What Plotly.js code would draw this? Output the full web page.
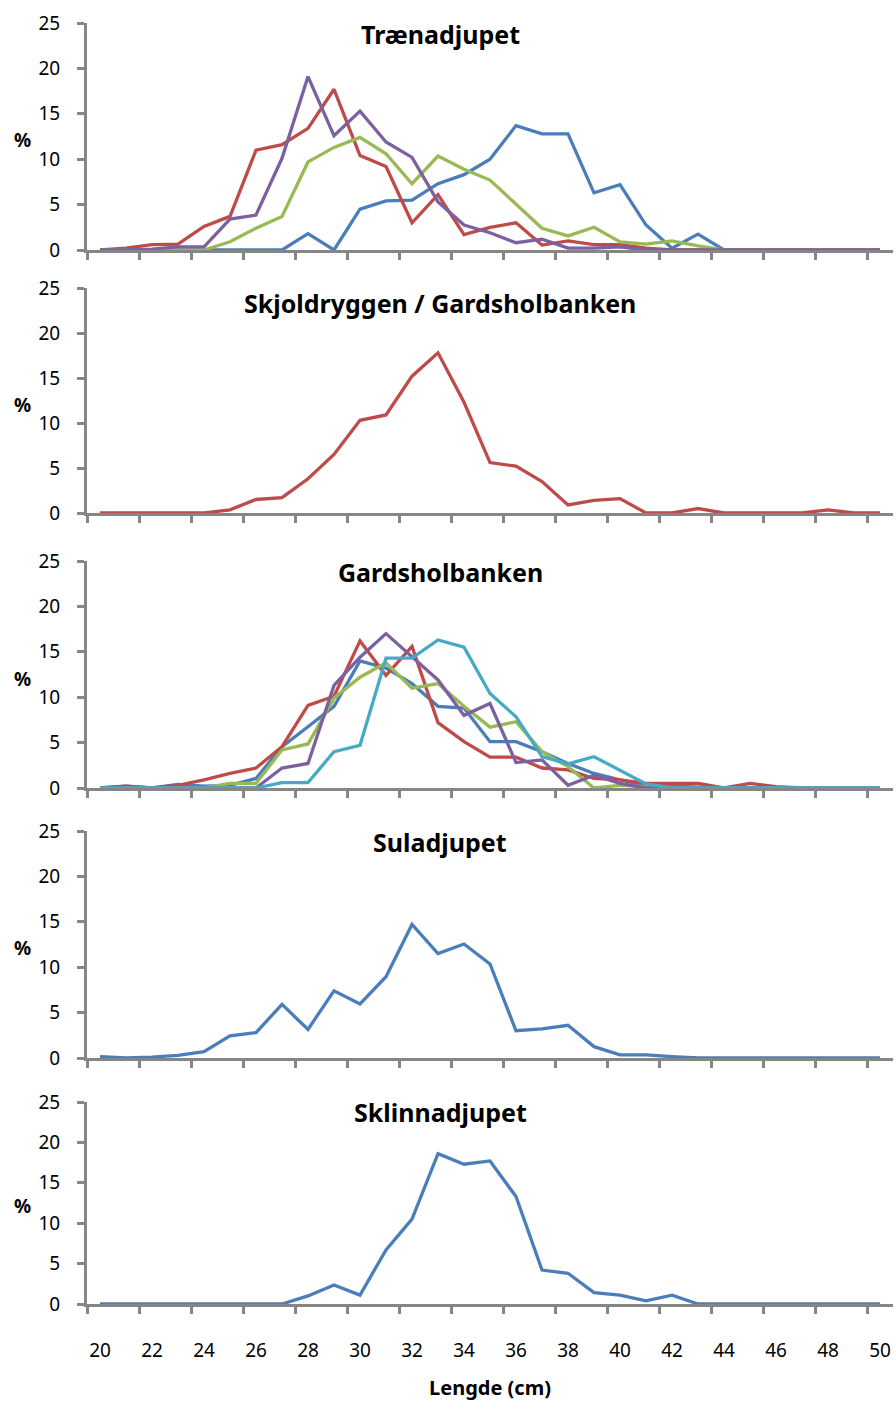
<!DOCTYPE html>
<html>
<head>
<meta charset="utf-8">
<script src="https://cdn.plot.ly/plotly-3.0.1.min.js"></script>
<style>html,body{margin:0;padding:0;background:#fff;}#chart{width:896px;height:1407px;}</style>
</head>
<body>
<div id="chart"></div>
<script>
// Lengths (cm)
const lengths = [20,21,22,23,24,25,26,27,28,29,30,31,32,33,34,35,36,37,38,39,40,41,42,43,44,45,46,47,48,49,50];
const xTickLabels = ["20","22","24","26","28","30","32","34","36","38","40","42","44","46","48","50"];
const panelTitles = ["Trænadjupet","Skjoldryggen / Gardsholbanken","Gardsholbanken","Suladjupet","Sklinnadjupet"];
const yTickValues = [0,5,10,15,20,25];

// Panel 1: Trænadjupet
const traena_blue   = [0,0,0,0,0,0,0,0,1.8,0,4.5,5.4,5.5,7.3,8.3,10.0,13.7,12.8,12.8,6.3,7.2,2.75,0.2,1.75,0,0,0,0,0,0,0];
const traena_red    = [0,0.2,0.6,0.65,2.6,3.7,11.0,11.6,13.4,17.7,10.4,9.2,3.0,6.1,1.7,2.5,3.0,0.55,1.0,0.6,0.6,0.2,0,0,0,0,0,0,0,0,0];
const traena_green  = [0,0,0,0,0,0.9,2.4,3.7,9.7,11.3,12.4,10.6,7.3,10.35,8.9,7.7,5.1,2.4,1.55,2.5,0.9,0.65,1.0,0.45,0,0,0,0,0,0,0];
const traena_purple = [0,0,0.1,0.35,0.35,3.4,3.85,10.1,19.1,12.6,15.3,11.9,10.2,5.3,2.75,1.9,0.8,1.2,0.2,0.2,0.35,0,0,0,0,0,0,0,0,0,0];

// Panel 2: Skjoldryggen / Gardsholbanken
const skjold_red = [0,0,0,0,0,0.35,1.5,1.7,3.8,6.5,10.3,10.9,15.2,17.8,12.3,5.6,5.2,3.5,0.9,1.4,1.6,0,0,0.5,0,0,0,0,0.35,0,0];

// Panel 3: Gardsholbanken
const gards_blue   = [0,0.2,0,0.4,0.2,0.3,1.05,4.55,6.75,9.0,14.0,13.2,11.5,9.0,8.8,5.1,5.1,4.0,2.7,1.6,0.9,0.3,0.2,0.1,0,0,0,0,0,0,0];
const gards_red    = [0,0.2,0,0.3,0.9,1.6,2.2,4.55,9.1,10.1,16.2,12.4,15.6,7.2,5.1,3.4,3.4,2.2,2.0,1.05,0.9,0.5,0.5,0.5,0,0.5,0.15,0,0,0,0];
const gards_green  = [0,0,0,0,0,0.5,0.5,4.2,4.85,9.9,12.2,13.8,11.0,11.5,9.0,6.7,7.3,4.0,2.35,0,0.3,0.15,0,0,0,0,0,0,0,0,0];
const gards_purple = [0,0,0,0,0,0,0,2.2,2.7,11.3,14.4,17.0,14.4,11.9,8.0,9.3,2.8,3.1,0.3,1.4,0.5,0,0,0,0,0,0,0,0,0,0];
const gards_teal   = [0,0,0,0,0,0,0,0.6,0.6,4.0,4.7,14.3,14.3,16.3,15.5,10.4,7.85,3.45,2.65,3.45,2.0,0.45,0,0,0,0,0,0,0,0,0];

// Panel 4: Suladjupet
const sula_blue = [0.15,0,0.1,0.3,0.7,2.45,2.8,5.9,3.15,7.4,5.95,8.95,14.7,11.5,12.55,10.35,3.0,3.2,3.6,1.25,0.35,0.35,0.15,0,0,0,0,0,0,0,0];

// Panel 5: Sklinnadjupet
const sklinna_blue = [0,0,0,0,0,0,0,0,1.0,2.35,1.1,6.7,10.5,18.6,17.3,17.7,13.3,4.2,3.8,1.4,1.1,0.4,1.1,0,0,0,0,0,0,0,0];

const C = {blue:'#4A7EBB', red:'#BE4B48', green:'#98B954', purple:'#7D60A0', teal:'#46AAC5'};

const panels = [
  [[traena_blue,C.blue],[traena_red,C.red],[traena_green,C.green],[traena_purple,C.purple]],
  [[skjold_red,C.red]],
  [[gards_blue,C.blue],[gards_red,C.red],[gards_green,C.green],[gards_purple,C.purple],[gards_teal,C.teal]],
  [[sula_blue,C.blue]],
  [[sklinna_blue,C.blue]]
];

const H = 1407;
// pixel positions [top(25), bottom(0)] of each panel
const panelPix = [[23,250],[288,513],[561,788],[831,1058],[1102,1304]];
const titlePix = [34,303,572,842,1112];
const pctPix = [140,405,679,948,1206];

const data = [];
const layout = {
  width: 896, height: 1407,
  margin: {l:0, r:0, t:0, b:0},
  paper_bgcolor: '#fff', plot_bgcolor: '#fff',
  showlegend: false,
  font: {family: 'Noto Sans, sans-serif', size: 19, color: '#000'},
  annotations: []
};

const xTickPos = xTickLabels.map(s => Number(s) - 0.5);

panels.forEach((series, i) => {
  const n = i === 0 ? '' : String(i+1);
  series.forEach(([vals, col]) => {
    data.push({x: lengths, y: vals, type: 'scatter', mode: 'lines',
      xaxis: 'x'+n, yaxis: 'y'+n,
      line: {color: col, width: 3.3}, hoverinfo: 'skip'});
  });
  const isLast = i === panels.length - 1;
  layout['xaxis'+n] = {
    domain: [87/896, 893/896], anchor: 'y'+n, range: [19.5, 50.5],
    showline: true, linecolor: '#868686', linewidth: 3,
    ticks: 'outside', ticklen: 7, tickwidth: 3, tickcolor: '#868686',
    tickmode: 'array', tickvals: xTickPos, ticktext: xTickLabels,
    showticklabels: isLast, ticklabelshift: 13, ticklabelstandoff: 20,
    tickfont: {size: 19}, showgrid: false, zeroline: false, fixedrange: true
  };
  if (isLast) {
    layout['xaxis'+n].title = {text: '<b>Lengde (cm)</b>', font: {size: 20}, standoff: 20};
  }
  const [top, bot] = panelPix[i];
  layout['yaxis'+n] = {
    domain: [1 - bot/H, 1 - top/H], anchor: 'x'+n, range: [0, 25],
    showline: true, linecolor: '#868686', linewidth: 3,
    ticks: 'outside', ticklen: 7, tickwidth: 3, tickcolor: '#868686',
    tickmode: 'array', tickvals: yTickValues, ticklabelstandoff: 13,
    tickfont: {size: 19}, showgrid: false, zeroline: false, fixedrange: true
  };
  layout.annotations.push({
    text: '<b>' + panelTitles[i] + '</b>', xref: 'paper', yref: 'paper',
    x: 440/896, y: 1 - titlePix[i]/H, xanchor: 'center', yanchor: 'middle',
    showarrow: false, font: {size: 25, color: '#000'}
  });
  layout.annotations.push({
    text: '<b>%</b>', xref: 'paper', yref: 'paper',
    x: 22/896, y: 1 - pctPix[i]/H, xanchor: 'center', yanchor: 'middle',
    showarrow: false, font: {size: 19, color: '#000'}
  });
});

Plotly.newPlot('chart', data, layout, {displayModeBar: false, staticPlot: true});
</script>
</body>
</html>
